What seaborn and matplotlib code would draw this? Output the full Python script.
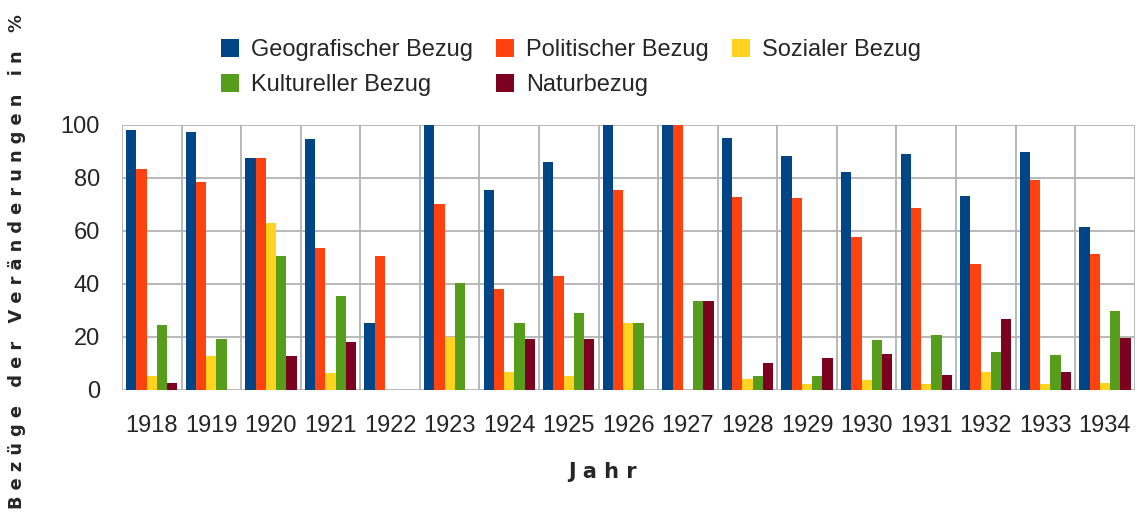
import numpy as np
import pandas as pd
import seaborn as sns
import matplotlib.pyplot as plt

# values (percent)
years = ['1918', '1919', '1920', '1921', '1922', '1923', '1924', '1925', '1926',
         '1927', '1928', '1929', '1930', '1931', '1932', '1933', '1934']
geografisch = [98.1, 97.2, 87.7, 94.6, 25.2, 100, 75.3, 86.2, 100,
               100, 95.2, 88.2, 82.3, 89.2, 73.3, 89.7, 61.4]
politisch = [83.3, 78.4, 87.7, 53.5, 50.6, 70.3, 38.0, 43.0, 75.3,
             100, 72.8, 72.3, 57.9, 68.8, 47.4, 79.2, 51.4]
sozial = [5.3, 12.7, 62.9, 6.3, 0, 20.1, 6.8, 5.3, 25.2,
          0, 4.3, 2.3, 3.8, 2.3, 6.8, 2.3, 2.8]
kulturell = [24.5, 19.1, 50.6, 35.6, 0, 40.5, 25.2, 29.2, 25.2,
             33.6, 5.3, 5.3, 18.7, 20.6, 14.2, 13.2, 29.7]
natur = [2.8, 0, 12.7, 18.2, 0, 0, 19.1, 19.1, 0,
         33.6, 10.2, 12.2, 13.7, 5.8, 26.7, 6.8, 19.7]

series = ['Geografischer Bezug', 'Politischer Bezug', 'Sozialer Bezug',
          'Kultureller Bezug', 'Naturbezug']
colors = ['#004586', '#ff420e', '#ffd320', '#579d1c', '#7e0021']

df = pd.DataFrame({'Jahr': years * 5,
                   'Wert': geografisch + politisch + sozial + kulturell + natur,
                   'Bezug': np.repeat(series, len(years))})

sns.set_style('white')
plt.rcParams['font.family'] = ['Liberation Sans', 'DejaVu Sans']

fig = plt.figure(figsize=(11.37, 5.16), dpi=100)
ax = fig.add_axes([0.1073, 0.2442, 0.8907, 0.5136])

sns.barplot(data=df, x='Jahr', y='Wert', hue='Bezug', order=years, hue_order=series,
            palette=colors, width=0.86, linewidth=0, saturation=1, ax=ax)

ax.set_ylim(0, 100)
ax.set_xlim(-0.5, len(years) - 0.5)
ax.set_yticks(range(0, 101, 20))
ax.set_xticks(np.arange(-0.5, len(years)), minor=True)
ax.grid(True, axis='y', color='#b3b3b3', linewidth=1.3)
ax.grid(True, axis='x', which='minor', color='#b3b3b3', linewidth=1.3)
ax.set_axisbelow(True)
for s in ax.spines.values():
    s.set_visible(False)
ax.tick_params(axis='x', which='major', length=0, pad=18, labelsize=17)
ax.tick_params(axis='x', which='minor', length=10, color='#b3b3b3', width=1.3)
ax.tick_params(axis='y', length=10, color='#b3b3b3', width=1.3, pad=6, labelsize=17)

ax.set_xlabel('J a h r', fontsize=15, fontweight='bold', family='DejaVu Sans')
ax.xaxis.set_label_coords(0.474, -0.27)
ax.set_ylabel('B e z ü g e   d e r   V e r ä n d e r u n g e n   i n   %', fontsize=12.8,
              fontweight='bold', family='DejaVu Sans')
ax.yaxis.set_label_coords(-0.095, 0.483)

handles, labels = ax.get_legend_handles_labels()
ax.get_legend().remove()
idx = [0, 3, 1, 4, 2]
fig.legend([handles[i] for i in idx], [labels[i] for i in idx], ncol=3,
           loc='upper left', bbox_to_anchor=(0.176, 0.965), frameon=False, fontsize=17,
           handlelength=0.75, handleheight=0.75, handletextpad=0.5, columnspacing=1.0,
           labelspacing=0.55)

fig.savefig('out.png', dpi=100)
